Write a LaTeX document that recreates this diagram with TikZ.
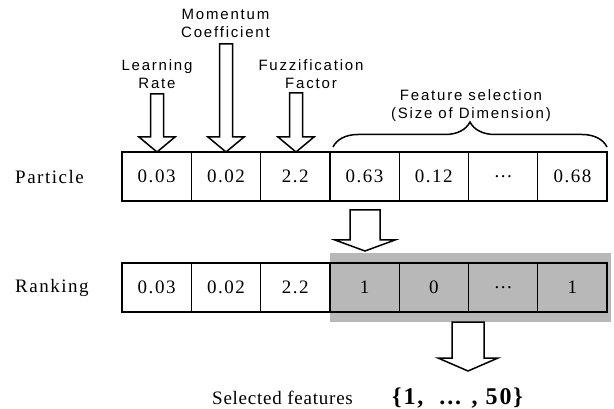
\documentclass[tikz,border=0pt]{standalone}
\usepackage{fontspec}
\setmainfont{Liberation Serif}[LetterSpace=8]
\newfontfamily\lblsans{Liberation Sans}[LetterSpace=12]
\usetikzlibrary{decorations.pathreplacing}
\tikzset{
  cell/.style={draw, line width=1.3pt, minimum width=69.3pt, minimum height=49pt, inner sep=0pt, font=\fontsize{19}{22}\selectfont},
  sidelabel/.style={anchor=west, inner sep=0pt, font=\fontsize{19}{22}\selectfont},
  toplabel/.style={align=center, inner sep=0pt, font=\lblsans\fontsize{15}{18}\selectfont},
  barrow/.style={draw, line width=1.5pt, fill=white, line join=miter},
  shade/.style={fill=black!28},
}
\newcommand\blockarrow[6]{%
  \draw[barrow] (#1-#5,#2) -- (#1+#5,#2) -- (#1+#5,#3) -- (#1+#6,#3) -- (#1,#4) -- (#1-#6,#3) -- (#1-#5,#3) -- cycle;}
\begin{document}
\begin{tikzpicture}[x=1pt,y=-1pt]
\useasboundingbox (0,0) rectangle (614,409);
% top labels
\node[toplabel] (lr) at (157,74.5) {Learning\\Rate};
\node[toplabel] (mc) at (225.5,23) {Momentum\\Coefficient};
\node[toplabel] (ff) at (311,74.5) {Fuzzification\\Factor};
\node[toplabel] (fs) at (471,106) {Feature selection\\(Size of Dimension)};
% top arrows
\blockarrow{157}{94}{137}{152}{6.5}{18}
\blockarrow{226}{44}{137}{152}{6.5}{18}
\blockarrow{296}{93}{137}{152}{6.5}{18}
% brace
\draw[line width=1.5pt, decorate, decoration={brace, amplitude=25pt}] (333,147) -- (607,147);
% particle row
\node[sidelabel] (pl) at (15,177) {Particle};
\node[cell] (p1) at (156.65,176.5) {0.03};
\node[cell] (p2) at (225.95,176.5) {0.02};
\node[cell] (p3) at (295.25,176.5) {2.2};
\node[cell] (p4) at (364.55,176.5) {0.63};
\node[cell] (p5) at (433.85,176.5) {0.12};
\node[cell] (p6) at (503.15,176.5) {...};
\node[cell] (p7) at (572.45,176.5) {0.68};
% between-row arrow
\blockarrow{365}{210}{240}{251}{15}{30}
% ranking row
\fill[shade] (330,253) rectangle (611,322);
\node[sidelabel] (rl) at (15,288) {Ranking};
\node[cell] (r1) at (156.65,287.5) {0.03};
\node[cell] (r2) at (225.95,287.5) {0.02};
\node[cell] (r3) at (295.25,287.5) {2.2};
\node[cell] (r4) at (364.55,287.5) {1};
\node[cell] (r5) at (433.85,287.5) {0};
\node[cell] (r6) at (503.15,287.5) {...};
\node[cell] (r7) at (572.45,287.5) {1};
% bottom arrow
\blockarrow{468}{322}{358}{371}{16}{30}
% result
\node[anchor=base west, inner sep=0pt, font=\fontsize{19}{22}\selectfont\addfontfeature{LetterSpace=4}] (sf) at (212,404) {Selected features};
\node[anchor=base west, inner sep=0pt, font=\bfseries\fontsize{24}{28}\selectfont] (set) at (392,404) {\{1,\ \ ... , 50\}};
\end{tikzpicture}
\end{document}
